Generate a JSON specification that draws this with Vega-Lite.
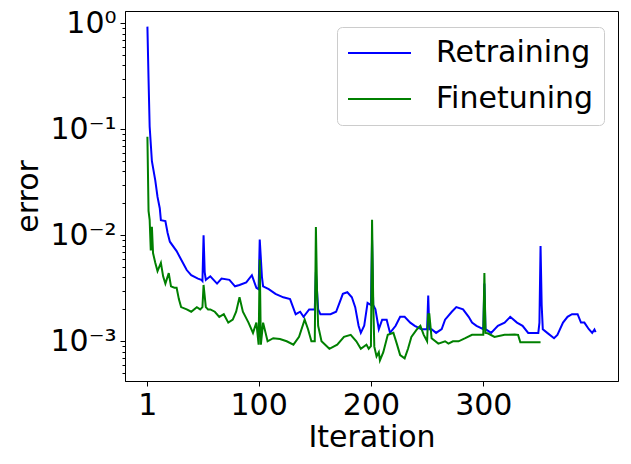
{
  "$schema": "https://vega.github.io/schema/vega-lite/v6.json",
  "width": 493,
  "height": 370,
  "autosize": "none",
  "padding": {"left": 125, "top": 11, "right": 13, "bottom": 83},
  "background": "white",
  "config": {
    "view": {"stroke": "black", "strokeWidth": 1},
    "font": "DejaVu Sans",
    "axis": {"labelFont": "DejaVu Sans", "titleFont": "DejaVu Sans", "labelColor": "black", "titleColor": "black", "domainColor": "black", "tickColor": "black", "labelFontSize": 30, "titleFontSize": 30, "titleFontWeight": "normal", "grid": false, "labelFlush": false}
  },
  "datasets": {
    "d": [
      {"x":1,"y":0.93,"s":"Retraining"},{"x":2,"y":0.3,"s":"Retraining"},{"x":3,"y":0.106,"s":"Retraining"},{"x":5,"y":0.05,"s":"Retraining"},{"x":8,"y":0.033,"s":"Retraining"},{"x":10,"y":0.023,"s":"Retraining"},{"x":12,"y":0.018,"s":"Retraining"},{"x":13,"y":0.0139,"s":"Retraining"},{"x":17,"y":0.0136,"s":"Retraining"},{"x":19,"y":0.0105,"s":"Retraining"},{"x":21,"y":0.0087,"s":"Retraining"},{"x":27,"y":0.0071,"s":"Retraining"},{"x":31,"y":0.0059,"s":"Retraining"},{"x":36,"y":0.0047,"s":"Retraining"},{"x":40,"y":0.0042,"s":"Retraining"},{"x":46,"y":0.0039,"s":"Retraining"},{"x":49,"y":0.0038,"s":"Retraining"},{"x":50,"y":0.0037,"s":"Retraining"},{"x":51,"y":0.01,"s":"Retraining"},{"x":52,"y":0.0045,"s":"Retraining"},{"x":53,"y":0.0038,"s":"Retraining"},{"x":57,"y":0.0041,"s":"Retraining"},{"x":63,"y":0.0035,"s":"Retraining"},{"x":67,"y":0.0039,"s":"Retraining"},{"x":74,"y":0.0038,"s":"Retraining"},{"x":79,"y":0.0033,"s":"Retraining"},{"x":83,"y":0.0034,"s":"Retraining"},{"x":89,"y":0.0036,"s":"Retraining"},{"x":94,"y":0.0042,"s":"Retraining"},{"x":98,"y":0.0032,"s":"Retraining"},{"x":100,"y":0.0031,"s":"Retraining"},{"x":101,"y":0.0091,"s":"Retraining"},{"x":103,"y":0.004,"s":"Retraining"},{"x":104,"y":0.0033,"s":"Retraining"},{"x":109,"y":0.0031,"s":"Retraining"},{"x":115,"y":0.0028,"s":"Retraining"},{"x":122,"y":0.0026,"s":"Retraining"},{"x":128,"y":0.0025,"s":"Retraining"},{"x":133,"y":0.0018,"s":"Retraining"},{"x":137,"y":0.0019,"s":"Retraining"},{"x":140,"y":0.0017,"s":"Retraining"},{"x":145,"y":0.002,"s":"Retraining"},{"x":150,"y":0.002,"s":"Retraining"},{"x":151,"y":0.0045,"s":"Retraining"},{"x":153,"y":0.002,"s":"Retraining"},{"x":155,"y":0.0018,"s":"Retraining"},{"x":160,"y":0.0018,"s":"Retraining"},{"x":164,"y":0.0018,"s":"Retraining"},{"x":169,"y":0.0019,"s":"Retraining"},{"x":172,"y":0.0023,"s":"Retraining"},{"x":175,"y":0.0028,"s":"Retraining"},{"x":179,"y":0.0029,"s":"Retraining"},{"x":183,"y":0.0026,"s":"Retraining"},{"x":186,"y":0.0021,"s":"Retraining"},{"x":189,"y":0.0014,"s":"Retraining"},{"x":191,"y":0.0012,"s":"Retraining"},{"x":194,"y":0.0014,"s":"Retraining"},{"x":197,"y":0.0023,"s":"Retraining"},{"x":200,"y":0.0022,"s":"Retraining"},{"x":201,"y":0.0091,"s":"Retraining"},{"x":202,"y":0.0022,"s":"Retraining"},{"x":204,"y":0.002,"s":"Retraining"},{"x":207,"y":0.0013,"s":"Retraining"},{"x":210,"y":0.0016,"s":"Retraining"},{"x":214,"y":0.0016,"s":"Retraining"},{"x":217,"y":0.0012,"s":"Retraining"},{"x":222,"y":0.0014,"s":"Retraining"},{"x":226,"y":0.0017,"s":"Retraining"},{"x":230,"y":0.0017,"s":"Retraining"},{"x":235,"y":0.0015,"s":"Retraining"},{"x":239,"y":0.0014,"s":"Retraining"},{"x":245,"y":0.0013,"s":"Retraining"},{"x":250,"y":0.0013,"s":"Retraining"},{"x":251,"y":0.0027,"s":"Retraining"},{"x":252,"y":0.0013,"s":"Retraining"},{"x":254,"y":0.0013,"s":"Retraining"},{"x":258,"y":0.0012,"s":"Retraining"},{"x":263,"y":0.0013,"s":"Retraining"},{"x":266,"y":0.0016,"s":"Retraining"},{"x":272,"y":0.0019,"s":"Retraining"},{"x":276,"y":0.0021,"s":"Retraining"},{"x":282,"y":0.002,"s":"Retraining"},{"x":287,"y":0.0017,"s":"Retraining"},{"x":290,"y":0.0015,"s":"Retraining"},{"x":294,"y":0.0014,"s":"Retraining"},{"x":300,"y":0.0013,"s":"Retraining"},{"x":301,"y":0.0035,"s":"Retraining"},{"x":302,"y":0.0013,"s":"Retraining"},{"x":307,"y":0.0012,"s":"Retraining"},{"x":313,"y":0.0014,"s":"Retraining"},{"x":319,"y":0.0015,"s":"Retraining"},{"x":324,"y":0.0017,"s":"Retraining"},{"x":330,"y":0.0015,"s":"Retraining"},{"x":335,"y":0.0014,"s":"Retraining"},{"x":340,"y":0.0012,"s":"Retraining"},{"x":345,"y":0.0012,"s":"Retraining"},{"x":349,"y":0.0012,"s":"Retraining"},{"x":350,"y":0.0015,"s":"Retraining"},{"x":351,"y":0.0079,"s":"Retraining"},{"x":352,"y":0.0022,"s":"Retraining"},{"x":353,"y":0.0013,"s":"Retraining"},{"x":357,"y":0.0012,"s":"Retraining"},{"x":363,"y":0.00107,"s":"Retraining"},{"x":366,"y":0.00115,"s":"Retraining"},{"x":371,"y":0.0015,"s":"Retraining"},{"x":375,"y":0.0017,"s":"Retraining"},{"x":379,"y":0.0018,"s":"Retraining"},{"x":384,"y":0.0018,"s":"Retraining"},{"x":387,"y":0.0015,"s":"Retraining"},{"x":390,"y":0.0015,"s":"Retraining"},{"x":394,"y":0.0013,"s":"Retraining"},{"x":397,"y":0.0012,"s":"Retraining"},{"x":399,"y":0.00129,"s":"Retraining"},{"x":400,"y":0.00122,"s":"Retraining"},
      {"x":1,"y":0.085,"s":"Finetuning"},{"x":2,"y":0.017,"s":"Finetuning"},{"x":3,"y":0.014,"s":"Finetuning"},{"x":4,"y":0.0072,"s":"Finetuning"},{"x":5,"y":0.012,"s":"Finetuning"},{"x":6,"y":0.0068,"s":"Finetuning"},{"x":8,"y":0.0055,"s":"Finetuning"},{"x":10,"y":0.0046,"s":"Finetuning"},{"x":13,"y":0.0055,"s":"Finetuning"},{"x":15,"y":0.0041,"s":"Finetuning"},{"x":17,"y":0.0035,"s":"Finetuning"},{"x":20,"y":0.0044,"s":"Finetuning"},{"x":22,"y":0.0033,"s":"Finetuning"},{"x":25,"y":0.0032,"s":"Finetuning"},{"x":27,"y":0.0032,"s":"Finetuning"},{"x":29,"y":0.0025,"s":"Finetuning"},{"x":31,"y":0.0021,"s":"Finetuning"},{"x":36,"y":0.002,"s":"Finetuning"},{"x":40,"y":0.0019,"s":"Finetuning"},{"x":45,"y":0.0021,"s":"Finetuning"},{"x":48,"y":0.002,"s":"Finetuning"},{"x":50,"y":0.0021,"s":"Finetuning"},{"x":51,"y":0.0034,"s":"Finetuning"},{"x":53,"y":0.0021,"s":"Finetuning"},{"x":55,"y":0.002,"s":"Finetuning"},{"x":57,"y":0.002,"s":"Finetuning"},{"x":61,"y":0.0019,"s":"Finetuning"},{"x":65,"y":0.0017,"s":"Finetuning"},{"x":69,"y":0.0018,"s":"Finetuning"},{"x":73,"y":0.0015,"s":"Finetuning"},{"x":77,"y":0.0016,"s":"Finetuning"},{"x":80,"y":0.0019,"s":"Finetuning"},{"x":83,"y":0.0026,"s":"Finetuning"},{"x":86,"y":0.0019,"s":"Finetuning"},{"x":91,"y":0.0015,"s":"Finetuning"},{"x":95,"y":0.0012,"s":"Finetuning"},{"x":98,"y":0.0015,"s":"Finetuning"},{"x":100,"y":0.00093,"s":"Finetuning"},{"x":101,"y":0.0059,"s":"Finetuning"},{"x":102,"y":0.00093,"s":"Finetuning"},{"x":104,"y":0.0015,"s":"Finetuning"},{"x":108,"y":0.001,"s":"Finetuning"},{"x":113,"y":0.00107,"s":"Finetuning"},{"x":119,"y":0.00105,"s":"Finetuning"},{"x":125,"y":0.001,"s":"Finetuning"},{"x":131,"y":0.00093,"s":"Finetuning"},{"x":136,"y":0.0011,"s":"Finetuning"},{"x":141,"y":0.0016,"s":"Finetuning"},{"x":144,"y":0.0013,"s":"Finetuning"},{"x":147,"y":0.001,"s":"Finetuning"},{"x":150,"y":0.001,"s":"Finetuning"},{"x":151,"y":0.012,"s":"Finetuning"},{"x":152,"y":0.003,"s":"Finetuning"},{"x":153,"y":0.0014,"s":"Finetuning"},{"x":156,"y":0.001,"s":"Finetuning"},{"x":163,"y":0.00085,"s":"Finetuning"},{"x":170,"y":0.00093,"s":"Finetuning"},{"x":176,"y":0.0011,"s":"Finetuning"},{"x":182,"y":0.00115,"s":"Finetuning"},{"x":187,"y":0.001,"s":"Finetuning"},{"x":191,"y":0.00085,"s":"Finetuning"},{"x":196,"y":0.00093,"s":"Finetuning"},{"x":198,"y":0.00085,"s":"Finetuning"},{"x":200,"y":0.0009,"s":"Finetuning"},{"x":201,"y":0.014,"s":"Finetuning"},{"x":202,"y":0.0025,"s":"Finetuning"},{"x":203,"y":0.00089,"s":"Finetuning"},{"x":205,"y":0.00072,"s":"Finetuning"},{"x":207,"y":0.00079,"s":"Finetuning"},{"x":208,"y":0.00066,"s":"Finetuning"},{"x":211,"y":0.00079,"s":"Finetuning"},{"x":215,"y":0.00115,"s":"Finetuning"},{"x":220,"y":0.0012,"s":"Finetuning"},{"x":223,"y":0.00095,"s":"Finetuning"},{"x":226,"y":0.00074,"s":"Finetuning"},{"x":230,"y":0.00069,"s":"Finetuning"},{"x":233,"y":0.00085,"s":"Finetuning"},{"x":236,"y":0.0011,"s":"Finetuning"},{"x":241,"y":0.0013,"s":"Finetuning"},{"x":244,"y":0.0014,"s":"Finetuning"},{"x":247,"y":0.00115,"s":"Finetuning"},{"x":250,"y":0.001,"s":"Finetuning"},{"x":251,"y":0.0018,"s":"Finetuning"},{"x":252,"y":0.0018,"s":"Finetuning"},{"x":254,"y":0.00107,"s":"Finetuning"},{"x":260,"y":0.00095,"s":"Finetuning"},{"x":266,"y":0.001,"s":"Finetuning"},{"x":269,"y":0.00095,"s":"Finetuning"},{"x":273,"y":0.001,"s":"Finetuning"},{"x":278,"y":0.001,"s":"Finetuning"},{"x":284,"y":0.00107,"s":"Finetuning"},{"x":290,"y":0.00115,"s":"Finetuning"},{"x":294,"y":0.00115,"s":"Finetuning"},{"x":300,"y":0.00115,"s":"Finetuning"},{"x":301,"y":0.0044,"s":"Finetuning"},{"x":302,"y":0.0012,"s":"Finetuning"},{"x":304,"y":0.00119,"s":"Finetuning"},{"x":310,"y":0.0011,"s":"Finetuning"},{"x":319,"y":0.00115,"s":"Finetuning"},{"x":328,"y":0.00116,"s":"Finetuning"},{"x":331,"y":0.00115,"s":"Finetuning"},{"x":333,"y":0.00098,"s":"Finetuning"},{"x":351,"y":0.00098,"s":"Finetuning"}
    ]
  },
  "data": {"name": "d"},
  "mark": {"type": "line", "strokeWidth": 2, "clip": true},
  "encoding": {
    "x": {"field": "x", "type": "quantitative",
      "scale": {"domain": [-18.95, 419.95], "nice": false, "zero": false},
      "axis": {"title": "Iteration", "values": [1, 100, 200, 300], "tickSize": 5, "labelPadding": 4, "titlePadding": 2}},
    "y": {"field": "y", "type": "quantitative",
      "scale": {"type": "log", "domain": [0.000422, 1.306], "nice": false},
      "axis": {"title": "error", "titlePadding": 6,
        "values": [0.0005,0.0006,0.0007,0.0008,0.0009,0.001,0.002,0.003,0.004,0.005,0.006,0.007,0.008,0.009,0.01,0.02,0.03,0.04,0.05,0.06,0.07,0.08,0.09,0.1,0.2,0.3,0.4,0.5,0.6,0.7,0.8,0.9,1],
        "tickSize": {"condition": {"test": "datum.value == 1 || datum.value == 0.1 || datum.value == 0.01 || datum.value == 0.001", "value": 5}, "value": 3},
        "labelExpr": "datum.value == 1 ? '10⁰' : datum.value == 0.1 ? '10⁻¹' : datum.value == 0.01 ? '10⁻²' : datum.value == 0.001 ? '10⁻³' : ''",
        "labelPadding": 4}},
    "color": {"field": "s", "type": "nominal",
      "scale": {"domain": ["Retraining", "Finetuning"], "range": ["#0000ff", "#008000"]},
      "legend": {"title": null, "orient": "none", "legendX": 212, "legendY": 16,
        "fillColor": "rgba(255,255,255,0.8)", "strokeColor": "#cccccc", "cornerRadius": 5, "padding": 10,
        "labelFont": "DejaVu Sans", "labelFontSize": 30, "labelColor": "black", "labelOffset": 24,
        "symbolType": "stroke", "symbolSize": 3969, "symbolStrokeWidth": 2, "clipHeight": 32, "rowPadding": 14}}
  }
}
